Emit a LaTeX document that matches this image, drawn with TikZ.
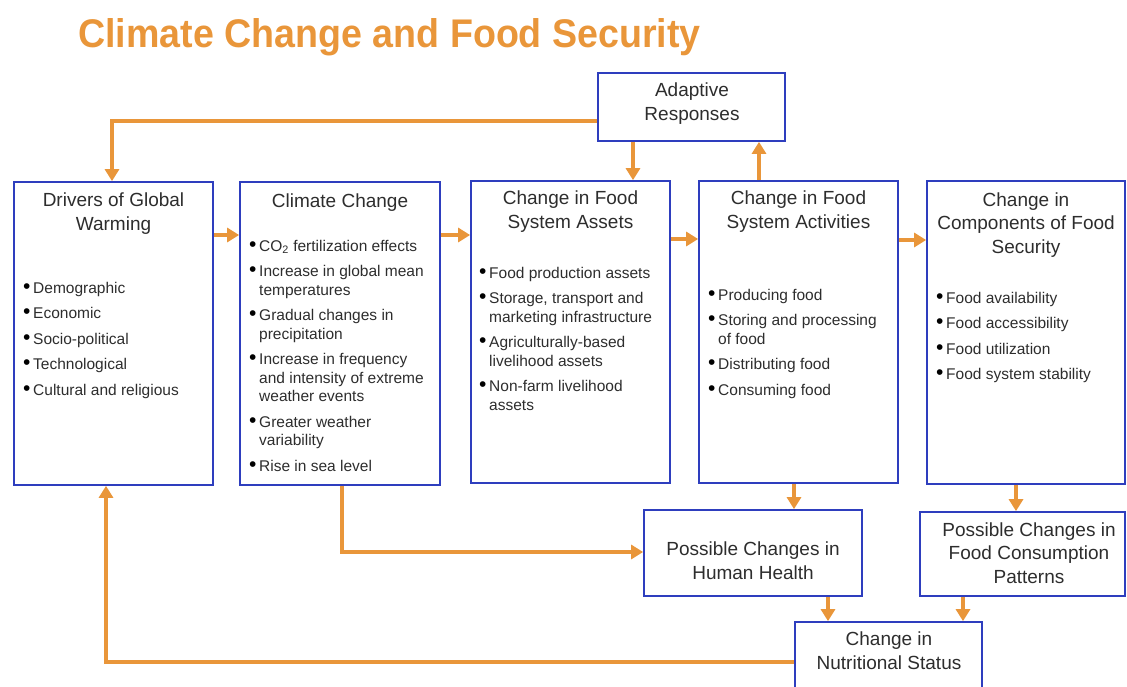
\documentclass[tikz,border=0pt]{standalone}
\usepackage{fontspec}
\setmainfont{Liberation Sans}
\usetikzlibrary{arrows.meta}
\definecolor{orng}{RGB}{233,150,58}
\definecolor{bblue}{RGB}{46,62,190}
\definecolor{txt}{RGB}{45,45,45}
\newcommand{\bitem}[1]{\par\noindent\hangindent=9pt\hangafter=1\makebox[9pt][l]{\hspace*{-1pt}\textcolor{black}{\fontsize{21}{18.5}\selectfont •}}#1}
\newcommand{\blist}[2]{\parbox[t]{#1}{\setlength{\parskip}{7pt}#2}}
\begin{document}
\begin{tikzpicture}[x=1pt,y=-1pt,
  box/.style={draw=bblue,line width=1.7pt,inner sep=0pt},
  ttl/.style={font=\fontsize{19}{23.5}\selectfont,text=txt,align=center,inner sep=0pt,anchor=base},
  lst/.style={font=\fontsize{15.5}{18.5}\selectfont,text=txt,inner sep=0pt,anchor=base west},
  arr/.style={draw=orng,line width=4.3pt,-{Triangle[length=12pt,width=14pt]}}]
\clip (0,0) rectangle (1127,686);
\useasboundingbox (0,0) rectangle (1127,686);
% title
\node[anchor=base west,inner sep=0pt,text=orng,font=\fontsize{40}{42}\selectfont\bfseries] (title) at (78,47) {\scalebox{0.94}[1]{Climate Change and Food Security}};
% boxes
\node[box,minimum width=199pt,minimum height=303pt] (drv) at (113.5,333.5) {};
\node[box,minimum width=200pt,minimum height=303pt] (clim) at (340,333.5) {};
\node[box,minimum width=199pt,minimum height=302pt] (ast) at (570.5,332) {};
\node[box,minimum width=199pt,minimum height=302pt] (act) at (798.5,332) {};
\node[box,minimum width=198pt,minimum height=303pt] (cmp) at (1026,332.5) {};
\node[box,minimum width=187pt,minimum height=68pt] (adp) at (691.5,107) {};
\node[box,minimum width=218pt,minimum height=86pt] (hh) at (753,553) {};
\node[box,minimum width=205pt,minimum height=84pt] (cons) at (1022.5,554) {};
\node[box,minimum width=187pt,minimum height=98pt] (nut) at (888.5,671) {};
% titles (anchor base = last line)
\node[ttl] (drvT) at (113.5,230) {Drivers of Global\\Warming};
\node[ttl] (climT) at (340,207) {Climate Change};
\node[ttl] (astT) at (570.5,228) {Change in Food\\System Assets};
\node[ttl] (actT) at (798.5,228) {Change in Food\\System Activities};
\node[ttl] (cmpT) at (1026,253) {Change in\\Components of Food\\Security};
\node[ttl] (adpT) at (692,120) {Adaptive\\Responses};
\node[ttl] (hhT) at (753,579) {Possible Changes in\\Human Health};
\node[ttl] (consT) at (1029,583) {Possible Changes in\\Food Consumption\\Patterns};
\node[ttl] (nutT) at (889,669) {Change in\\Nutritional Status};
% lists
\node[lst] (drvL) at (24,293) {\blist{185pt}{%
\bitem{Demographic}\bitem{Economic}\bitem{Socio-political}\bitem{Technological}\bitem{Cultural and religious}}};
\node[lst] (climL) at (250,251) {\blist{188pt}{%
\bitem{CO\textsubscript{2} fertilization effects}\bitem{Increase in global mean\\temperatures}\bitem{Gradual changes in\\precipitation}\bitem{Increase in frequency\\and intensity of extreme\\weather events}\bitem{Greater weather\\variability}\bitem{Rise in sea level}}};
\node[lst] (astL) at (480,278) {\blist{188pt}{%
\bitem{Food production assets}\bitem{Storage, transport and\\marketing infrastructure}\bitem{Agriculturally-based\\livelihood assets}\bitem{Non-farm livelihood\\assets}}};
\node[lst] (actL) at (709,300) {\blist{188pt}{%
\bitem{Producing food}\bitem{Storing and processing\\of food}\bitem{Distributing food}\bitem{Consuming food}}};
\node[lst] (cmpL) at (937,303) {\blist{185pt}{%
\bitem{Food availability}\bitem{Food accessibility}\bitem{Food utilization}\bitem{Food system stability}}};
% helper coordinates
\coordinate (c1) at (112,121);
\coordinate (c2) at (633,0);
\coordinate (c3) at (759,0);
\coordinate (h1) at (0,235);
\coordinate (h2) at (0,235);
\coordinate (h3) at (0,239);
\coordinate (h4) at (0,240);
\coordinate (c4) at (342,552);
\coordinate (v1) at (794,0);
\coordinate (v2) at (1016,0);
\coordinate (v3) at (828,0);
\coordinate (v4) at (963,0);
\coordinate (c5) at (106,662);
% connectors
\draw[arr] (adp.west |- c1) -| (drv.north -| c1);
\draw[arr] (adp.south -| c2) -- (ast.north -| c2);
\draw[arr] (act.north -| c3) -- (adp.south -| c3);
\draw[arr] (drv.east |- h1) -- (clim.west |- h1);
\draw[arr] (clim.east |- h2) -- (ast.west |- h2);
\draw[arr] (ast.east |- h3) -- (act.west |- h3);
\draw[arr] (act.east |- h4) -- (cmp.west |- h4);
\draw[arr] (clim.south -| c4) |- (hh.west |- c4);
\draw[arr] (act.south -| v1) -- (hh.north -| v1);
\draw[arr] (cmp.south -| v2) -- (cons.north -| v2);
\draw[arr] (hh.south -| v3) -- (nut.north -| v3);
\draw[arr] (cons.south -| v4) -- (nut.north -| v4);
\draw[arr] (nut.west |- c5) -| (drv.south -| c5);
\end{tikzpicture}
\end{document}
